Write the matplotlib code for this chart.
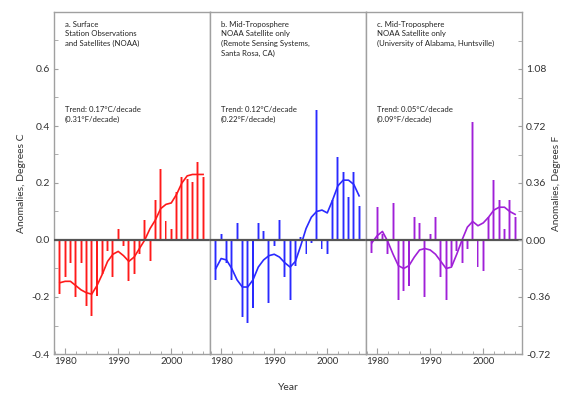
import matplotlib
matplotlib.use("Agg")
import matplotlib.pyplot as plt
from matplotlib.ticker import MultipleLocator, FixedLocator

years = list(range(1979, 2007))

surface = [-0.19, -0.13, -0.08, -0.20, -0.08, -0.23, -0.265, -0.195, -0.12, -0.04,
           -0.13, 0.04, -0.02, -0.145, -0.12, -0.05, 0.07, -0.075, 0.14, 0.25,
           0.068, 0.04, 0.17, 0.22, 0.215, 0.205, 0.275, 0.22]
surface_smooth = [-0.15, -0.145, -0.145, -0.16, -0.175, -0.185, -0.19, -0.16, -0.12, -0.075,
                  -0.05, -0.04, -0.055, -0.075, -0.06, -0.03, 0.0, 0.04, 0.07, 0.11,
                  0.125, 0.13, 0.16, 0.20, 0.225, 0.23, 0.23, 0.23]

rss = [-0.14, 0.02, -0.08, -0.14, 0.06, -0.27, -0.29, -0.24, 0.06, 0.03,
       -0.22, -0.02, 0.07, -0.13, -0.21, -0.09, 0.01, -0.05, -0.01, 0.455,
       -0.03, -0.05, 0.14, 0.29, 0.24, 0.15, 0.24, 0.12]
rss_smooth = [-0.10, -0.065, -0.07, -0.10, -0.14, -0.165, -0.165, -0.14, -0.095, -0.07,
              -0.055, -0.05, -0.06, -0.08, -0.095, -0.075, -0.02, 0.04, 0.08, 0.10,
              0.105, 0.095, 0.14, 0.19, 0.21, 0.21, 0.195, 0.155]

uah = [-0.045, 0.115, 0.02, -0.05, 0.13, -0.21, -0.18, -0.16, 0.08, 0.06,
       -0.20, 0.02, 0.08, -0.13, -0.21, -0.09, -0.04, -0.08, -0.03, 0.415,
       -0.095, -0.11, 0.08, 0.21, 0.14, 0.04, 0.14, 0.08]
uah_smooth = [-0.01, 0.015, 0.03, -0.005, -0.05, -0.09, -0.10, -0.09, -0.06, -0.035,
              -0.03, -0.035, -0.05, -0.075, -0.10, -0.095, -0.05, 0.0, 0.045, 0.065,
              0.05, 0.06, 0.08, 0.105, 0.115, 0.115, 0.10, 0.09]

titles = ["a. Surface\nStation Observations\nand Satellites (NOAA)",
          "b. Mid-Troposphere\nNOAA Satellite only\n(Remote Sensing Systems,\nSanta Rosa, CA)",
          "c. Mid-Troposphere\nNOAA Satellite only\n(University of Alabama, Huntsville)"]
trends = ["Trend: 0.17°C/decade\n(0.31°F/decade)",
          "Trend: 0.12°C/decade\n(0.22°F/decade)",
          "Trend: 0.05°C/decade\n(0.09°F/decade)"]
colors = ["#ff1a1a", "#2a2aff", "#a020d8"]
series = [surface, rss, uah]
smooths = [surface_smooth, rss_smooth, uah_smooth]
left_ticks = [-0.4, -0.2, 0.0, 0.2, 0.4, 0.6]
left_labels = ["-0.4", "-0.2", "0.0", "0.2", "0.4", "0.6"]
right_ticks = [-0.72, -0.36, 0.0, 0.36, 0.72, 1.08]
right_labels = ["-0.72", "-0.36", "0.00", "0.36", "0.72", "1.08"]

plt.rcParams['font.family'] = ['Lato', 'DejaVu Sans']

fig = plt.figure(figsize=(5.65, 3.99), dpi=100)
L, R, B, T = 54/565, 522/565, 1-354/399, 1-12/399
W = (R - L) / 3
spine_c = "#a0a0a0"
tick_c = "#333333"
axes = []
for i in range(3):
    ax = fig.add_axes([L + i*W, B, W, T - B])
    axes.append(ax)
    ax.set_xlim(1977.9, 2007.3)
    ax.set_ylim(-0.4, 0.8)
    vals = series[i]
    ax.bar(years, vals, width=0.55, color=colors[i], alpha=0.45, linewidth=0)
    ax.bar(years, vals, width=0.2, color=colors[i], linewidth=0)
    ax.plot(years, smooths[i], color=colors[i], lw=1.2)
    ax.axhline(0, color="#555555", lw=1.6, zorder=5)
    for s in ax.spines.values():
        s.set_color(spine_c)
        s.set_linewidth(1.0)
    ax.xaxis.set_major_locator(FixedLocator([1980, 1990, 2000]))
    ax.xaxis.set_minor_locator(MultipleLocator(2))
    ax.tick_params(axis='x', which='both', direction='in', colors=spine_c,
                   labelcolor=tick_c, labelsize=7, pad=2)
    ax.tick_params(axis='x', which='major', length=4)
    ax.tick_params(axis='x', which='minor', length=2.5)
    ax.text(0.07, 0.975, titles[i], transform=ax.transAxes, fontsize=5.6,
            va='top', ha='left', color="#222222", linespacing=1.45)
    ax.text(0.07, 0.725, trends[i], transform=ax.transAxes, fontsize=5.6,
            va='top', ha='left', color="#222222", linespacing=1.45)
    if i == 0:
        ax.yaxis.set_major_locator(FixedLocator(left_ticks))
        ax.set_yticklabels(left_labels)
        ax.yaxis.set_minor_locator(MultipleLocator(0.1))
        ax.tick_params(axis='y', which='both', direction='in', colors=spine_c,
                       labelcolor=tick_c, labelsize=7.5, length=3, pad=3)
        ax.set_ylabel("Anomalies, Degrees C", fontsize=7.5, color=tick_c, labelpad=4)
    else:
        ax.set_yticks([])

ax2 = axes[2].twinx()
ax2.set_ylim(-0.72, 1.44)
ax2.yaxis.set_major_locator(FixedLocator(right_ticks))
ax2.set_yticklabels(right_labels)
ax2.yaxis.set_minor_locator(MultipleLocator(0.18))
ax2.tick_params(axis='y', which='both', direction='in', colors=spine_c,
                labelcolor=tick_c, labelsize=7.5, length=3, pad=3)
for s in ax2.spines.values():
    s.set_visible(False)
ax2.set_ylabel("Anomalies, Degrees F", fontsize=7.2, color=tick_c, labelpad=1)
ax2.yaxis.set_label_position('right')

fig.text(0.5 * (L + R), 1 - 388/399, "Year", ha='center', va='center',
         fontsize=7.5, color=tick_c)

fig.savefig("out.png", dpi=100)
